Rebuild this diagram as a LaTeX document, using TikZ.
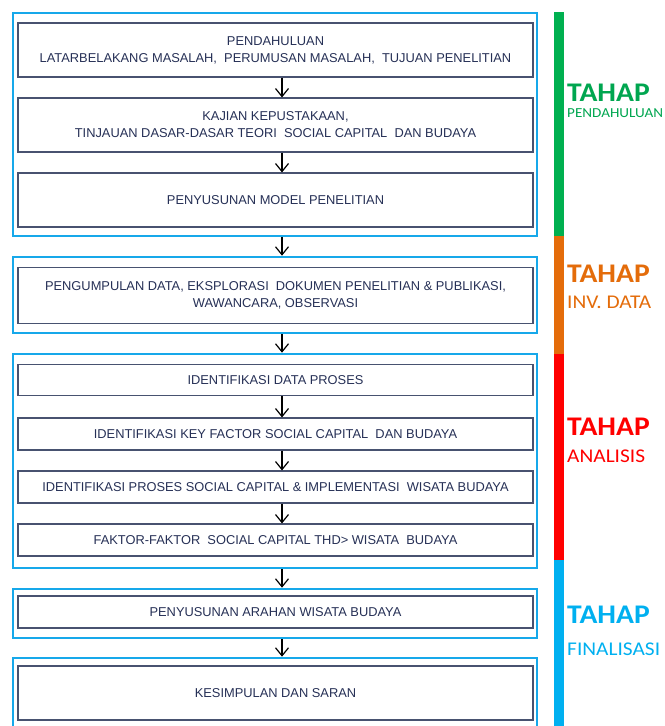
\documentclass[tikz,border=0pt]{standalone}
\usepackage{fontspec}
\setmainfont{Liberation Sans}
\newfontfamily\labfont[FakeStretch=1.1]{Carlito}
\usetikzlibrary{arrows.meta}
\definecolor{frameblue}{RGB}{22,168,234}
\definecolor{boxline}{RGB}{72,82,112}
\definecolor{boxtext}{RGB}{38,48,86}
\definecolor{stgreen}{RGB}{0,176,80}
\definecolor{storange}{RGB}{228,108,10}
\definecolor{stred}{RGB}{255,0,0}
\definecolor{stblue}{RGB}{0,176,240}
\definecolor{txgreen}{RGB}{0,166,80}
\begin{document}
\begin{tikzpicture}[x=1bp,y=-1bp,
  frame/.style={draw=frameblue,line width=2.6bp,fill=white,minimum width=524bp,inner sep=0pt},
  stepbox/.style={draw=boxline,line width=1.1bp,fill=white,minimum width=515bp,inner sep=0pt,
    align=center,text=boxtext,font=\fontsize{12.9}{17}\selectfont},
  flow/.style={line width=1.2bp,-{Straight Barb[length=8bp,width=13bp,line width=1.2bp]}},
  tahap/.style={anchor=base west,inner sep=0pt,text depth=0pt,font=\labfont\bfseries\fontsize{27}{27}\selectfont},
  sub/.style={anchor=base west,inner sep=0pt,font=\labfont\fontsize{19.5}{19.5}\selectfont}]
\clip (0,0) rectangle (665,726);
\fill[white] (0,0) rectangle (665,726);
\coordinate (ax) at (282,0);
% frames
\node[frame,minimum height=223bp] (f1) at (275,124.5) {};
\node[frame,minimum height=76bp] (f2) at (275,295) {};
\node[frame,minimum height=214bp] (f3) at (275,461) {};
\node[frame,minimum height=49bp] (f4) at (275,613.5) {};
\node[frame,minimum height=82bp] (f5) at (275,699) {};
% boxes
\node[stepbox,minimum height=54bp] (b1) at (275.5,50) {PENDAHULUAN\\LATARBELAKANG MASALAH,\ \ PERUMUSAN MASALAH,\ \ TUJUAN PENELITIAN};
\node[stepbox,minimum height=54bp] (b2) at (275.5,125) {KAJIAN KEPUSTAKAAN,\\TINJAUAN DASAR-DASAR TEORI\ \ SOCIAL CAPITAL\ \ DAN BUDAYA};
\node[stepbox,minimum height=54bp] (b3) at (275.5,200) {PENYUSUNAN MODEL PENELITIAN};
\node[stepbox,minimum height=56bp] (b4) at (275.5,295.5) {PENGUMPULAN DATA, EKSPLORASI\ \ DOKUMEN PENELITIAN \& PUBLIKASI,\\WAWANCARA, OBSERVASI};
\node[stepbox,minimum height=31bp] (b5) at (275.5,380) {IDENTIFIKASI DATA PROSES};
\node[stepbox,minimum height=32bp] (b6) at (275.5,434) {IDENTIFIKASI KEY FACTOR SOCIAL CAPITAL\ \ DAN BUDAYA};
\node[stepbox,minimum height=32bp] (b7) at (275.5,487) {IDENTIFIKASI PROSES SOCIAL CAPITAL \& IMPLEMENTASI\ \ WISATA BUDAYA};
\node[stepbox,minimum height=32bp] (b8) at (275.5,540) {FAKTOR-FAKTOR\ \ SOCIAL CAPITAL THD> WISATA\ \ BUDAYA};
\node[stepbox,minimum height=32bp] (b9) at (275.5,612) {PENYUSUNAN ARAHAN WISATA BUDAYA};
\node[stepbox,minimum height=54bp] (b10) at (275.5,693) {KESIMPULAN DAN SARAN};
% arrows
\draw[flow] (b1.south -| ax) -- (b2.north -| ax);
\draw[flow] (b2.south -| ax) -- (b3.north -| ax);
\draw[flow] (f1.south -| ax) -- (f2.north -| ax);
\draw[flow] (f2.south -| ax) -- (f3.north -| ax);
\draw[flow] (b5.south -| ax) -- (b6.north -| ax);
\draw[flow] (b6.south -| ax) -- (b7.north -| ax);
\draw[flow] (b7.south -| ax) -- (b8.north -| ax);
\draw[flow] (f3.south -| ax) -- (f4.north -| ax);
\draw[flow] (f4.south -| ax) -- (f5.north -| ax);
% stage bars
\fill[stgreen] (554,12) rectangle (564,236);
\fill[storange] (554,236) rectangle (564,354);
\fill[stred] (554,354) rectangle (564,560);
\fill[stblue] (554,560) rectangle (564,726);
% stage labels
\node[tahap,text=txgreen] (t1) at (567,101.5) {TAHAP};
\node[anchor=base west,inner sep=0pt,text=txgreen,font=\labfont\fontsize{13.8}{13.8}\selectfont] (s1) at (567,117.5) {PENDAHULUAN};
\node[tahap,text=storange] (t2) at (567,282) {TAHAP};
\node[sub,text=storange] (s2) at (567,308) {INV. DATA};
\node[tahap,text=stred] (t3) at (567,435) {TAHAP};
\node[sub,text=stred] (s3) at (567,462) {ANALISIS};
\node[tahap,text=stblue] (t4) at (567,623) {TAHAP};
\node[sub,text=stblue] (s4) at (567,655) {FINALISASI};
\end{tikzpicture}
\end{document}
